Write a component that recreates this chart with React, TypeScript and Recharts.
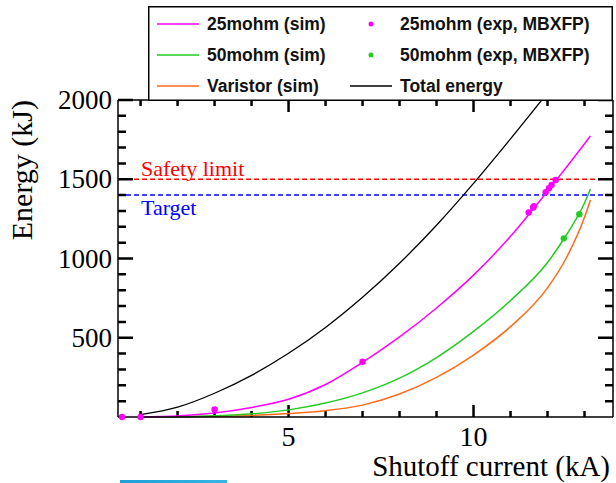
import { ComposedChart, Legend, Line, ReferenceLine, Scatter, XAxis, YAxis } from "recharts"

// simulated energy curves (kJ) vs shutoff current (kA)
const simCurrent = [1, 2, 3, 4, 5, 6, 7, 8, 9, 10, 11, 12, 12.5, 13, 13.16]
const sim25mohm = [1, 7, 25, 60, 112, 205, 345, 505, 688, 895, 1140, 1425, 1573, 1724, 1773]
const sim50mohm = [0, 2, 8, 20, 45, 88, 152, 245, 375, 540, 735, 975, 1145, 1350, 1438]
const simVaristor = [0, 1, 4, 10, 22, 40, 75, 145, 250, 391, 570, 815, 1000, 1260, 1369]

const totalCurrent = [1, 2, 3, 4, 5, 6, 7, 8, 9, 10, 11, 12]
const totalEnergy = [15, 62, 150, 263, 402, 565, 755, 970, 1210, 1474, 1755, 2045]

// measured points (MBXFP)
const exp25Current = [0.5, 1, 3, 7, 11.49, 11.61, 11.63, 11.95, 12.04, 12.11, 12.22]
const exp25Energy = [0, 0, 48, 349, 1291, 1322, 1330, 1418, 1443, 1464, 1495]
const exp50Current = [12.44, 12.86]
const exp50Energy = [1127, 1279]

const xTicks = [1, 2, 3, 4, 5, 6, 7, 8, 9, 10, 11, 12, 13]
const xLabelTicks = [5, 10]
const yTicks = [100, 200, 300, 400, 500, 600, 700, 800, 900, 1000, 1100, 1200, 1300, 1400, 1500, 1600, 1700, 1800, 1900, 2000]
const yLabelTicks = [500, 1000, 1500, 2000]

const safetyLimit = 1500
const target = 1400

const xDomain = [0.39, 13.77]
const yDomain = [0, 2000]

const C25 = "#ff00ff"
const C50 = "#22cc22"
const CVAR = "#ff6a1a"
const SERIF = '"Liberation Serif", "Times New Roman", serif'
const SANS = '"Liberation Sans", Arial, sans-serif'

// plot frame size in px, used to turn tick lengths into data units
const PLOT_W = 495
const PLOT_H = 317
const kAPerPx = (xDomain[1] - xDomain[0]) / PLOT_W
const kJPerPx = (yDomain[1] - yDomain[0]) / PLOT_H

const toPoints = (xs: number[], ys: number[]) => xs.map((I, i) => ({ I, E: ys[i] }))

function BottomTick({ x, y, payload }: any) {
  if (!xLabelTicks.includes(payload.value)) return <g />
  return (
    <text x={x} y={y + 29} textAnchor="middle" fontFamily={SERIF} fontSize={28} fill="#000">
      {payload.value}
    </text>
  )
}

function LeftTick({ x, y, payload }: any) {
  if (!yLabelTicks.includes(payload.value)) return <g />
  return (
    <text x={x - 6} y={y + 9} textAnchor="end" fontFamily={SERIF} fontSize={27} fill="#000">
      {payload.value}
    </text>
  )
}

// ROOT-style inward tick marks on all four sides, one broken polyline
function tickPath() {
  const pts: { I: number; E: number | null }[] = []
  xTicks.forEach((t) => {
    const len = (xLabelTicks.includes(t) ? 12 : 6) * kJPerPx
    pts.push({ I: t, E: yDomain[0] }, { I: t, E: yDomain[0] + len }, { I: t, E: null })
    pts.push({ I: t, E: yDomain[1] }, { I: t, E: yDomain[1] - len }, { I: t, E: null })
  })
  yTicks.forEach((v) => {
    const len = (yLabelTicks.includes(v) ? 15 : 8) * kAPerPx
    pts.push({ I: xDomain[0], E: v }, { I: xDomain[0] + len, E: v }, { I: xDomain[0] + len, E: null })
    pts.push({ I: xDomain[1] - len, E: v }, { I: xDomain[1], E: v }, { I: xDomain[1], E: null })
  })
  return pts
}

const legendRows = [
  [
    { kind: "line", color: C25, label: "25mohm (sim)" },
    { kind: "dot", color: C25, label: "25mohm (exp, MBXFP)" },
  ],
  [
    { kind: "line", color: C50, label: "50mohm (sim)" },
    { kind: "dot", color: C50, label: "50mohm (exp, MBXFP)" },
  ],
  [
    { kind: "line", color: CVAR, label: "Varistor (sim)" },
    { kind: "line", color: "#000", label: "Total energy" },
  ],
]

function LegendBox() {
  const cols = [9, 202]
  return (
    <svg width={465} height={95} style={{ display: "block" }}>
      <rect x={0.75} y={0.75} width={463.5} height={93.5} fill="#fff" stroke="#000" strokeWidth={1.5} />
      {legendRows.map((row, r) =>
        row.map((item, c) => {
          const cy = 18 + r * 31
          const x0 = cols[c]
          return (
            <g key={r + "-" + c}>
              {item.kind === "line" ? (
                <line x1={x0} x2={x0 + 42} y1={cy} y2={cy} stroke={item.color} strokeWidth={1.5} />
              ) : (
                <circle cx={x0 + 21} cy={cy} r={2.5} fill={item.color} />
              )}
              <text x={x0 + 50} y={cy + 6} fontFamily={SANS} fontWeight="bold" fontSize={17.5} fill="#111">
                {item.label}
              </text>
            </g>
          )
        })
      )}
    </svg>
  )
}

const dot = (color: string) => (props: any) => <circle cx={props.cx} cy={props.cy} r={3.2} fill={color} />

export default function App() {
  return (
    <div style={{ position: "absolute", left: 0, top: 0, width: 616, height: 483, background: "#fff" }}>
      <ComposedChart width={616} height={483} margin={{ top: 0, right: 0, bottom: 0, left: 0 }}>
        <XAxis
          xAxisId="bottom"
          dataKey="I"
          type="number"
          domain={xDomain}
          ticks={xTicks}
          interval={0}
          height={66}
          tickSize={0}
          tickMargin={0}
          tickLine={false}
          tick={<BottomTick />}
          axisLine={{ stroke: "#000", strokeWidth: 1.5 }}
          label={{
            content: (p: any) => {
              const vb = p.viewBox ?? { x: 118, y: 417, width: 495, height: 66 }
              return (
                <text x={vb.x + vb.width - 3} y={vb.y + vb.height - 7} textAnchor="end" fontFamily={SERIF} fontSize={29} fill="#000">
                  Shutoff current (kA)
                </text>
              )
            },
          }}
        />
        <XAxis
          xAxisId="top"
          orientation="top"
          dataKey="I"
          type="number"
          domain={xDomain}
          height={100}
          tick={false}
          tickLine={false}
          axisLine={{ stroke: "#000", strokeWidth: 1.5 }}
        />
        <YAxis
          yAxisId="left"
          type="number"
          domain={yDomain}
          ticks={yTicks}
          interval={0}
          width={118}
          tickSize={0}
          tickMargin={0}
          tickLine={false}
          tick={<LeftTick />}
          axisLine={{ stroke: "#000", strokeWidth: 1.5 }}
          label={{
            content: (p: any) => {
              const vb = p.viewBox ?? { x: 0, y: 100 }
              const x = vb.x + 32
              const y = vb.y
              return (
                <text x={x} y={y} transform={`rotate(-90, ${x}, ${y})`} textAnchor="end" fontFamily={SERIF} fontSize={30} fill="#000">
                  Energy (kJ)
                </text>
              )
            },
          }}
        />
        <YAxis
          yAxisId="right"
          orientation="right"
          type="number"
          domain={yDomain}
          allowDataOverflow
          width={3}
          tick={false}
          tickLine={false}
          axisLine={{ stroke: "#000", strokeWidth: 1.5 }}
        />
        <Legend
          layout="horizontal"
          verticalAlign="middle"
          align="center"
          wrapperStyle={{ left: 148, top: 6, width: 465, height: 95 }}
          content={() => <LegendBox />}
        />
        <ReferenceLine
          xAxisId="bottom"
          yAxisId="left"
          y={safetyLimit}
          stroke="#ff0000"
          strokeWidth={1.5}
          strokeDasharray="5 3"
          label={{
            content: (p: any) => {
              const vb = p.viewBox ?? { x: 118, y: 180 }
              return (
                <text x={vb.x + 23} y={vb.y - 3} fontFamily={SERIF} fontSize={22} fill="#ff0000">
                  Safety limit
                </text>
              )
            },
          }}
        />
        <ReferenceLine
          xAxisId="bottom"
          yAxisId="left"
          y={target}
          stroke="#0000ff"
          strokeWidth={1.5}
          strokeDasharray="5 3"
          label={{
            content: (p: any) => {
              const vb = p.viewBox ?? { x: 118, y: 196 }
              return (
                <text x={vb.x + 23} y={vb.y + 20} fontFamily={SERIF} fontSize={22} fill="#0000ff">
                  Target
                </text>
              )
            },
          }}
        />
        <Line xAxisId="bottom" yAxisId="left" data={tickPath()} dataKey="E" type="linear" connectNulls={false} stroke="#000" strokeWidth={2.5} dot={false} activeDot={false} legendType="none" isAnimationActive={false} />
        <Line xAxisId="bottom" yAxisId="right" data={toPoints(totalCurrent, totalEnergy)} dataKey="E" type="monotone" stroke="#000" strokeWidth={1.3} dot={false} isAnimationActive={false} />
        <Line xAxisId="bottom" yAxisId="left" data={toPoints(simCurrent, simVaristor)} dataKey="E" type="monotone" stroke={CVAR} strokeWidth={1.5} dot={false} isAnimationActive={false} />
        <Line xAxisId="bottom" yAxisId="left" data={toPoints(simCurrent, sim50mohm)} dataKey="E" type="monotone" stroke={C50} strokeWidth={1.5} dot={false} isAnimationActive={false} />
        <Line xAxisId="bottom" yAxisId="left" data={toPoints(simCurrent, sim25mohm)} dataKey="E" type="monotone" stroke={C25} strokeWidth={1.5} dot={false} isAnimationActive={false} />
        <Scatter xAxisId="bottom" yAxisId="left" data={toPoints(exp50Current, exp50Energy)} dataKey="E" shape={dot(C50)} isAnimationActive={false} />
        <Scatter xAxisId="bottom" yAxisId="left" data={toPoints(exp25Current, exp25Energy)} dataKey="E" shape={dot(C25)} isAnimationActive={false} />
      </ComposedChart>
      <div style={{ position: "absolute", left: 120, top: 480, width: 107, height: 3, background: "linear-gradient(90deg, #1e9fd6, #35b6e6)" }} />
    </div>
  )
}
